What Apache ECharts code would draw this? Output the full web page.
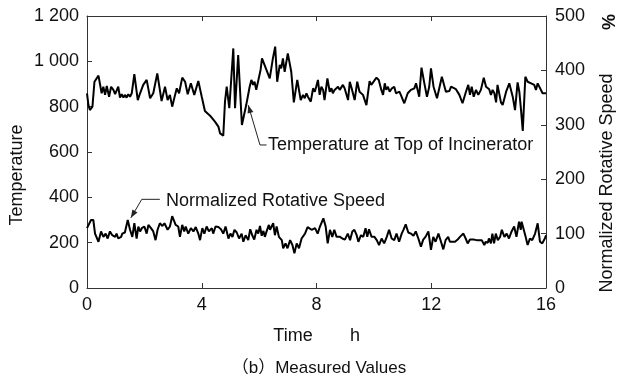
<!DOCTYPE html>
<html><head><meta charset="utf-8">
<script src="https://cdn.jsdelivr.net/npm/echarts@6/dist/echarts.min.js"></script>
<style>html,body{margin:0;padding:0;background:#fff}#c{width:619px;height:379px}</style>
</head><body><div id="c"></div>
<script>
// ---- data ----
const timeTicks = [0, 4, 8, 12, 16];
const tempTime = [
0,0.05,0.10,0.19,0.26,0.40,0.51,0.57,0.63,0.69,
0.77,0.84,0.92,0.98,1.09,1.15,1.21,1.27,1.32,1.38,
1.44,1.50,1.56,1.65,1.77,1.85,1.91,1.96,2.02,2.08,
2.20,2.31,2.45,2.60,2.72,2.81,2.89,2.97,3.07,3.13,
3.21,3.32,3.42,3.51,3.62,3.74,3.88,4.00,4.11,4.29,
4.46,4.58,4.64,4.75,4.81,4.87,4.96,5.10,5.16,5.27,
5.40,5.55,5.67,5.73,5.79,5.84,5.90,6.05,6.10,6.37,
6.48,6.56,6.63,6.72,6.77,6.83,6.89,7.00,7.12,7.21,
7.33,7.45,7.53,7.59,7.65,7.70,7.80,7.88,7.94,7.99,
8.05,8.11,8.17,8.23,8.28,8.38,8.46,8.52,8.57,8.63,
8.69,8.75,8.81,8.92,8.98,9.10,9.16,9.24,9.33,9.42,
9.50,9.62,9.74,9.85,9.91,9.97,10.09,10.17,10.26,10.32,
10.38,10.43,10.49,10.55,10.63,10.71,10.77,10.89,10.94,11.06,
11.12,11.18,11.29,11.41,11.47,11.58,11.66,11.76,11.85,11.93,
11.99,12.08,12.20,12.28,12.37,12.51,12.63,12.69,12.86,12.98,
13.09,13.21,13.29,13.35,13.41,13.48,13.56,13.64,13.73,13.83,
13.91,14.02,14.08,14.14,14.20,14.26,14.31,14.37,14.43,14.49,
14.61,14.72,14.84,14.92,15.01,15.07,15.13,15.19,15.28,15.36,
15.48,15.53,15.59,15.65,15.71,15.76,15.88,16.0
];
const tempValues = [
859,807,785,800,910,937,859,888,852,891,
844,888,874,855,888,840,855,840,852,840,
855,844,859,943,829,859,852,896,888,918,
837,859,947,825,888,829,852,800,852,881,
859,928,910,855,903,852,913,844,781,760,
734,712,682,672,822,888,793,1057,793,1028,
719,807,888,918,896,910,874,962,1013,925,
1013,1065,910,984,969,1013,954,1035,954,819,
918,829,852,837,859,844,822,881,866,888,
918,852,888,874,829,925,866,881,859,874,
866,888,874,896,881,829,910,874,829,910,
866,852,807,913,896,903,928,918,874,852,
903,874,888,866,881,888,859,866,852,815,
807,859,874,881,903,844,972,903,844,888,
969,888,837,881,932,866,869,888,877,852,
815,866,896,852,888,844,874,852,874,928,
888,877,852,874,859,819,896,888,819,807,
866,903,844,785,907,866,785,693,932,910,
903,907,896,874,903,899,859,859
];
const speedTime = [
0,0.14,0.22,0.28,0.40,0.49,0.57,0.65,0.72,0.80,
0.88,0.98,1.03,1.09,1.19,1.23,1.32,1.42,1.50,1.58,
1.65,1.73,1.79,1.85,1.91,2.00,2.08,2.14,2.23,2.31,
2.39,2.46,2.54,2.63,2.70,2.81,2.89,2.97,3.09,3.18,
3.24,3.32,3.39,3.44,3.53,3.62,3.71,3.79,3.88,3.94,
4.02,4.09,4.17,4.25,4.35,4.40,4.48,4.58,4.67,4.75,
4.83,4.93,5.00,5.07,5.14,5.22,5.30,5.39,5.45,5.53,
5.62,5.69,5.76,5.83,5.91,5.97,6.03,6.09,6.15,6.20,
6.26,6.34,6.38,6.44,6.49,6.55,6.61,6.69,6.79,6.84,
6.92,6.99,7.08,7.16,7.23,7.31,7.39,7.48,7.60,7.69,
7.74,7.83,7.95,8.04,8.12,8.24,8.32,8.39,8.47,8.55,
8.62,8.70,8.82,8.90,8.99,9.09,9.17,9.25,9.32,9.40,
9.46,9.55,9.63,9.71,9.77,9.83,9.92,10.02,10.10,10.18,
10.27,10.36,10.45,10.53,10.62,10.71,10.79,10.88,10.97,11.03,
11.11,11.20,11.29,11.38,11.46,11.55,11.64,11.72,11.80,11.90,
11.99,12.07,12.15,12.25,12.34,12.42,12.50,12.59,12.65,12.73,
12.83,12.92,13.00,13.12,13.20,13.27,13.35,13.47,13.58,13.66,
13.76,13.85,13.90,13.97,14.01,14.08,14.13,14.19,14.25,14.32,
14.40,14.46,14.55,14.63,14.71,14.80,14.89,14.97,15.06,15.12,
15.15,15.21,15.29,15.36,15.44,15.52,15.62,15.71,15.79,15.87,
15.96,16.0
];
const speedValues = [
110,125,125,100,85,104,94,100,91,104,
97,94,100,91,94,100,102,125,107,94,
119,91,113,104,110,113,100,116,110,104,
88,107,119,114,119,107,113,132,116,113,
94,116,104,113,100,110,104,112,100,88,
110,100,113,104,110,100,113,112,108,100,
113,91,100,94,107,102,91,100,85,97,
88,108,97,89,107,100,114,96,105,94,
104,116,107,110,119,97,113,94,88,73,
82,73,88,79,64,82,73,91,100,112,
113,107,110,100,113,128,113,82,107,94,
107,94,94,91,89,100,88,104,107,97,
85,97,94,110,94,108,94,94,88,79,
91,82,94,107,91,88,100,85,100,107,
117,102,100,96,104,91,76,89,94,104,
70,94,85,100,85,71,88,94,85,85,
85,89,94,100,91,82,89,89,88,88,
88,79,85,83,91,82,100,82,100,88,
94,107,94,100,91,104,113,94,122,107,
122,119,94,79,91,88,100,119,85,82,
91,97
];
const tempTicks = [0, 200, 400, 600, 800, 1000, 1200];
const speedTicks = [0, 100, 200, 300, 400, 500];
const tempLabel = 'Temperature at Top of Incinerator';
const speedLabel = 'Normalized Rotative Speed';

// ---- chart ----
const FONT = '"Liberation Sans", Arial, sans-serif';
const FS = 18;
const chart = echarts.init(document.getElementById('c'), null, {renderer: 'canvas'});
const axisLine = {show: true, onZero: false, lineStyle: {color: '#333', width: 1}};
const tick = {show: true, inside: true, length: 5, lineStyle: {color: '#333', width: 1}};
const fmtThousands = v => {
  const s = String(v);
  return s.length > 3 ? s.slice(0, s.length - 3) + ' ' + s.slice(-3) : s;
};
chart.setOption({
  animation: false,
  backgroundColor: '#fff',
  textStyle: {fontFamily: FONT},
  grid: {left: 87, right: 73, top: 16, bottom: 91, containLabel: false},
  xAxis: [
    {type: 'value', position: 'bottom', min: timeTicks[0], max: timeTicks[timeTicks.length - 1], interval: 4,
     axisLine, axisTick: tick, splitLine: {show: false},
     axisLabel: {color: '#111', fontSize: FS, fontFamily: FONT, margin: 8}},
    {type: 'value', position: 'top', min: timeTicks[0], max: timeTicks[timeTicks.length - 1], interval: 4,
     axisLine, axisTick: tick, splitLine: {show: false}, axisLabel: {show: false}}
  ],
  yAxis: [
    {type: 'value', position: 'left', min: tempTicks[0], max: tempTicks[tempTicks.length - 1], interval: 200,
     axisLine, axisTick: tick, splitLine: {show: false},
     axisLabel: {color: '#111', fontSize: FS, fontFamily: FONT, margin: 8, formatter: fmtThousands}},
    {type: 'value', position: 'right', min: speedTicks[0], max: speedTicks[speedTicks.length - 1], interval: 100,
     axisLine, axisTick: tick, splitLine: {show: false},
     axisLabel: {color: '#111', fontSize: FS, fontFamily: FONT, margin: 9}}
  ],
  series: [
    {type: 'line', xAxisIndex: 0, yAxisIndex: 0, data: tempTime.map((t, i) => [t, tempValues[i]]),
     showSymbol: false, lineStyle: {color: '#000', width: 2}, z: 3},
    {type: 'line', xAxisIndex: 0, yAxisIndex: 1, data: speedTime.map((t, i) => [t, speedValues[i]]),
     showSymbol: false, lineStyle: {color: '#000', width: 2}, z: 3}
  ]
});

function arrow(tip, elbow, end) {
  const dx = tip[0] - elbow[0], dy = tip[1] - elbow[1];
  const L = Math.hypot(dx, dy), ux = dx / L, uy = dy / L;
  const al = 8, aw = 3;
  const bx = tip[0] - ux * al, by = tip[1] - uy * al;
  return [
    {type: 'polyline', shape: {points: [end, elbow, tip]}, style: {stroke: '#222', lineWidth: 1, fill: null}, z: 10},
    {type: 'polygon', shape: {points: [tip, [bx - uy * aw, by + ux * aw], [bx + uy * aw, by - ux * aw]]},
     style: {fill: '#222'}, z: 10}
  ];
}
const P = (yi, t, v) => chart.convertToPixel({xAxisIndex: 0, yAxisIndex: yi}, [t, v]);
const tTip = P(0, 5.62, 807), tElb = P(0, 6.03, 631), tEnd = P(0, 6.26, 631), tTxt = P(0, 6.31, 631);
const sTip = P(1, 1.53, 129), sElb = P(1, 1.91, 163), sEnd = P(1, 2.54, 163), sTxt = P(1, 2.75, 163);
chart.setOption({
  graphic: [
    ...arrow(tTip, tElb, tEnd),
    ...arrow(sTip, sElb, sEnd),
    {type: 'text', x: tTxt[0], y: tTxt[1], style: {text: tempLabel, font: `${FS}px ${FONT}`, fill: '#111', verticalAlign: 'middle', align: 'left'}},
    {type: 'text', x: sTxt[0], y: sTxt[1] + 2, style: {text: speedLabel, font: `${FS}px ${FONT}`, fill: '#111', verticalAlign: 'middle', align: 'left'}},
    {type: 'text', x: 17, y: 175, rotation: Math.PI / 2, style: {text: 'Temperature', font: `${FS}px ${FONT}`, fill: '#111', align: 'center', verticalAlign: 'middle'}},
    {type: 'text', x: 607, y: 183, rotation: Math.PI / 2, style: {text: 'Normalized Rotative Speed', font: `${FS}px ${FONT}`, fill: '#111', align: 'center', verticalAlign: 'middle'}},
    {type: 'text', x: 610, y: 22, rotation: Math.PI / 2, style: {text: '%', font: `bold ${FS}px ${FONT}`, fill: '#111', align: 'center', verticalAlign: 'middle'}},
    {type: 'text', x: 293, y: 336, style: {text: 'Time', font: `${FS}px ${FONT}`, fill: '#111', align: 'center', verticalAlign: 'middle'}},
    {type: 'text', x: 355, y: 336, style: {text: 'h', font: `${FS}px ${FONT}`, fill: '#111', align: 'center', verticalAlign: 'middle'}},
    {type: 'text', x: 319, y: 368, style: {text: '（b）Measured Values', font: `17px "Liberation Sans", "Noto Sans CJK SC", sans-serif`, fill: '#111', align: 'center', verticalAlign: 'middle'}}
  ]
});
</script></body></html>
